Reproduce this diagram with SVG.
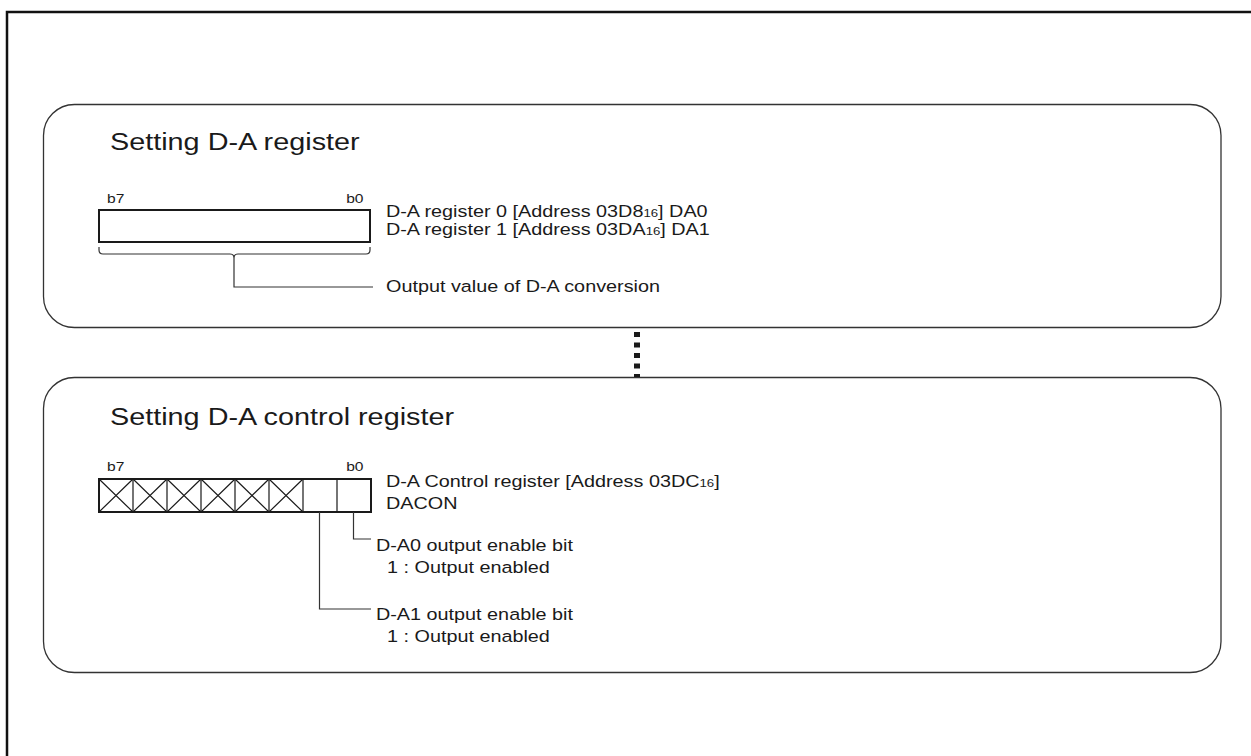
<svg xmlns="http://www.w3.org/2000/svg" width="1251" height="756" viewBox="0 0 1251 756">
<style>
text{font-family:"Liberation Sans",Arial,sans-serif;fill:#1a1a1a}
.title{font-size:24px}
.body{font-size:16.5px}
.bit{font-size:13px}
.sub{font-size:11px}
.panel{fill:#fff;stroke:#333;stroke-width:1.3}
.reg{fill:#fff;stroke:#1a1a1a;stroke-width:2}
.cell{fill:none;stroke:#1a1a1a;stroke-width:1.2}
.conn{fill:none;stroke:#333;stroke-width:1.2}
</style>
<rect x="0" y="0" width="1251" height="756" fill="#fff"/>
<rect id="frame" x="7" y="12" width="1262" height="770" fill="none" stroke="#111" stroke-width="2.5"/>

<g id="panel-da-register">
<rect class="panel" x="43.5" y="104.5" width="1177.5" height="223" rx="31"/>
<rect class="reg" x="99" y="210" width="271" height="32"/>
<g transform="scale(1.2 1)">
<text class="title" x="91.67" y="150">Setting D-A register</text>
<text class="bit" x="89.17" y="203">b7</text>
<text class="bit" x="288.5" y="203">b0</text>
<text class="body" x="321.67" y="217">D-A register 0 [Address 03D8<tspan class="sub">16</tspan>] DA0</text>
<text class="body" x="321.67" y="235">D-A register 1 [Address 03DA<tspan class="sub">16</tspan>] DA1</text>
<text class="body" x="321.67" y="292">Output value of D-A conversion</text>
</g>
</g>

<g id="panel-dacon">
<rect class="panel" x="43.5" y="377.5" width="1177.5" height="295" rx="31"/>
<rect class="reg" x="99" y="479" width="272" height="33"/>
<path class="cell" d="M133,479V512M167,479V512M201,479V512M235,479V512M269,479V512M303,479V512M337,479V512"/>
<path class="cell" d="M99,479L133,512M133,479L99,512M133,479L167,512M167,479L133,512M167,479L201,512M201,479L167,512M201,479L235,512M235,479L201,512M235,479L269,512M269,479L235,512M269,479L303,512M303,479L269,512"/>
<g transform="scale(1.2 1)">
<text class="title" x="91.67" y="425">Setting D-A control register</text>
<text class="bit" x="89.17" y="471">b7</text>
<text class="bit" x="288.5" y="471">b0</text>
<text class="body" x="321.67" y="487">D-A Control register [Address 03DC<tspan class="sub">16</tspan>]</text>
<text class="body" x="321.67" y="509">DACON</text>
<text class="body" x="313.33" y="551">D-A0 output enable bit</text>
<text class="body" x="322.5" y="573">1 : Output enabled</text>
<text class="body" x="313.33" y="620">D-A1 output enable bit</text>
<text class="body" x="322.5" y="642">1 : Output enabled</text>
</g>
</g>

<g id="connectors">
<path class="conn" d="M99,247V250Q99,254 103,254H230Q234,254 234,258Q234,254 238,254H366Q370,254 370,250V247"/>
<path class="conn" d="M234,258V287H373"/>
<path class="conn" d="M353.5,512V539H371"/>
<path class="conn" d="M319.5,512V609H371"/>
<line x1="637" y1="332" x2="637" y2="377" stroke="#1a1a1a" stroke-width="6" stroke-dasharray="5 5.5"/>
</g>
</svg>
